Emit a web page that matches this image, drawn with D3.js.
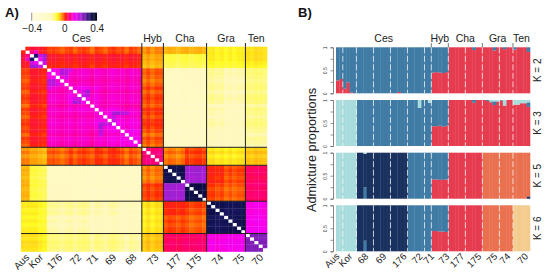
<!DOCTYPE html>
<html>
<head>
<meta charset="utf-8">
<style>
  html, body { margin: 0; padding: 0; background: #fff; }
  svg { display: block; font-family: "Liberation Sans", Arial, sans-serif; }
</style>
<script src="https://cdn.jsdelivr.net/npm/d3@7"></script>
</head>
<body>
<div id="chart"></div>
<script>
// ---- panel A data ----
const heatPops = ['Aus', 'Kor', '176', '72', '71', '69', '68', '73', '177', '175', '74', '75', '70'];
const heatPopSizes = [2, 4, 5, 5, 2, 5, 5, 5, 5, 5, 4, 5, 5];
const groupNames = ['Ces', 'Hyb', 'Cha', 'Gra', 'Ten'];
const groupSizes = [28, 5, 10, 9, 5];
// tick columns of the rotated labels (end of the text)
const heatLabelCols = [2.1, 5.3, 9.7, 14.1, 18, 22.2, 26.9, 32, 37.3, 41.9, 47, 51.9, 56.3];

// relatedness between populations, upper triangle
const popRelatedness = [
  [ .02,  .03, -.006, -.006, -.006, -.006, -.006, -.022, -.045, -.045, -.08, -.08, -.07],
  [       .09,  .012,  .012,  .012,  .012,  .012, -.045, -.11, -.11, -.09, -.09, -.08],
  [            .105, .09, .09,  .09,  .09, -.02, -.21, -.20, -.15, -.16, -.135],
  [                  .105, .10,  .09,  .09, -.012, -.21, -.21, -.15, -.16, -.135],
  [                        .11,  .10,  .09, -.006, -.22, -.22, -.16, -.17, -.14],
  [                              .11,  .10, -.006, -.22, -.22, -.16, -.17, -.14],
  [                                    .115, -.016, -.23, -.22, -.17, -.17, -.15],
  [                                          .06, -.025, -.006, -.08, -.08, -.06],
  [                                                .33,  .20,  .002, -.01, .045],
  [                                                      .34,  -.012, -.018,  .05],
  [                                                            .33,   .32,   .11],
  [                                                                   .33,   .12],
  [                                                                          .23]
];
// per sample lightness of its row and column
const sampleShift = [
  -.006, -.006, .004, .004, -.003, -.01,
  .005, .008, .003, -.004, .004,
  .008, -.005, .005, .009, .003,
  -.009, .008,
  .003, -.006, .006, .01, .002,
  .006, -.007, .008, .003, -.005,
  -.006, .005, -.007, .003, .002,
  -.002, .005, .002, -.004, .004, .006, -.002, .003, .005, -.002,
  .004, .006, -.002, .003, -.005,
  .003, -.004, .002, .004,
  .002, -.003, .005, .002, -.002
];
// single pairs that stand out of their block: row, column, value
const hotPairs = [
  [2, 3, .31], [2, 5, .2], [3, 5, .2], [1, 3, .1], [1, 2, .06], [2, 4, .16],
  [3, 4, .12], [4, 5, .16],
  [6, 9, .18], [6, 10, .17], [7, 9, .19], [7, 10, .18], [6, 11, .15], [8, 10, .15],
  [12, 15, .2], [13, 15, .18], [12, 14, .15], [13, 14, .16],
  [18, 21, .19], [18, 22, .2], [18, 23, .18], [19, 21, .17], [18, 24, .17], [20, 21, .16]
];
const colorBarTicks = [-0.4, 0, 0.4];

// ---- panel B data ----
const barPops = ['Aus', 'Kor', '68', '69', '176', '72', '71', '73', '177', '175', '75', '74', '70'];
const barPopSizes = [2, 4, 5, 5, 5, 5, 2, 5, 5, 5, 5, 4, 5];
const barLabelCols = [1.2, 5, 9.7, 15, 20.9, 25.6, 29, 33.5, 37.9, 42.9, 47.6, 51.4, 56.6];
const barGroupBreaks = [28, 33, 43, 52];
const kValues = [2, 3, 5, 6];

const k2Red = [
  .28, .31, .10, .24, .02, 0,
  0, 0, 0, 0, 0,  0, 0, 0, 0, 0,  0, 0, .03, 0, 0,  0, 0, 0, 0, 0,  0, 0,
  .45, .46, .45, .44, .46,
  1, 1, 1, 1, 1,  1, 1, .94, 1, 1,
  1, 1, 1, .93, 1,  1, .96, 1, 1,  .95, 1, 1, 1, .9
];
const k2Blue = k2Red.map(v => 1 - v);

const k3Red = [
  0, 0, 0, 0, 0, 0,
  0, 0, 0, 0, 0,  0, 0, 0, 0, 0,  0, 0, 0, 0, 0,  0, 0, 0, 0, 0,  0, 0,
  .43, .43, .44, .42, .44,
  1, 1, 1, 1, 1,  1, 1, .94, 1, 1,
  1, .98, .95, .89, .96,  .99, .88, 1, 1,  .9, .9, .93, .93, .85
];
const k3Cyan = [
  1, 1, 1, 1, 1, 1,
  0, 0, 0, 0, 0,  0, 0, 0, 0, 0,  0, 0, 0, 0, 0,  0, 0, 0, .17, 0,  0, .06,
  0, 0, 0, 0, 0,
  0, 0, 0, 0, 0,  0, 0, 0, 0, 0,
  0, 0, .03, .03, .03,  0, .12, 0, 0,  .1, .1, .07, .07, .05
];
const k3Blue = k3Red.map((v, i) => 1 - v - k3Cyan[i]);

const k5Red = [
  0, 0, 0, 0, 0, 0,
  0, 0, 0, 0, 0,  0, 0, 0, 0, 0,  0, 0, 0, 0, 0,  0, 0, 0, 0, 0,  0, 0,
  .42, .42, .41, .41, .42,
  1, 1, 1, 1, 1,  1, 1, 1, 1, 1,
  0, 0, 0, 0, 0,  0, 0, 0, 0,  0, 0, 0, 0, 0
];
const k5Blue = [
  0, 0, 0, 0, 0, 0,
  0, 0, .25, 0, 0,  0, 0, 0, 0, 0,  0, 0, 0, 0, 0,  1, 1, 1, 1, 1,  1, 1,
  .58, .58, .59, .59, .58,
  0, 0, 0, 0, 0,  0, 0, 0, 0, 0,
  0, 0, 0, 0, 0,  0, 0, 0, 0,  0, 0, 0, 0, 0
];
const k5Navy = [
  0, 0, 0, 0, 0, 0,
  1, 1, .73, 1, 1,  1, 1, 1, 1, 1,  1, 1, 1, 1, 1,  0, 0, 0, 0, 0,  0, 0,
  0, 0, 0, 0, 0,
  0, 0, 0, 0, 0,  0, 0, 0, 0, 0,
  0, 0, 0, 0, 0,  0, 0, 0, 0,  0, 0, 0, 0, .05
];
const k5Orange = [
  0, 0, 0, 0, 0, 0,
  0, 0, 0, 0, 0,  0, 0, 0, 0, 0,  0, 0, 0, 0, 0,  0, 0, 0, 0, 0,  0, 0,
  0, 0, 0, 0, 0,
  0, 0, 0, 0, 0,  0, 0, 0, 0, 0,
  1, 1, 1, 1, 1,  1, 1, 1, 1,  1, 1, 1, 1, .95
];
const k5Cyan = [
  1, 1, 1, 1, 1, 1,
  0, 0, .02, 0, 0,  0, 0, 0, 0, 0,  0, 0, 0, 0, 0,  0, 0, 0, 0, 0,  0, 0,
  0, 0, 0, 0, 0,
  0, 0, 0, 0, 0,  0, 0, 0, 0, 0,
  0, 0, 0, 0, 0,  0, 0, 0, 0,  0, 0, 0, 0, 0
];

const k6Red = [
  0, 0, 0, 0, 0, 0,
  0, 0, 0, 0, 0,  0, 0, 0, 0, 0,  0, 0, 0, 0, 0,  0, 0, 0, 0, 0,  0, 0,
  .44, .44, .43, .43, .42,
  1, 1, 1, 1, 1,  1, 1, 1, 1, 1,
  0, 0, 0, 0, 0,  0, 0, 0, 0,  0, 0, 0, 0, 0
];
const k6Blue = [
  0, 0, 0, 0, 0, 0,
  0, 0, .23, 0, 0,  0, 0, 0, 0, 0,  0, 0, 0, 0, 0,  1, 1, 1, 1, 1,  1, 1,
  .56, .56, .57, .57, .58,
  0, 0, 0, 0, 0,  0, 0, 0, 0, 0,
  0, 0, 0, 0, 0,  0, 0, 0, 0, 0,
  0, 0, 0, 0, 0,  0, 0, 0, 0,  0, 0, 0, 0, 0
].slice(0, 57);
const k6Navy = [
  0, 0, 0, 0, 0, 0,
  1, 1, .77, 1, 1,  1, 1, 1, 1, 1,  1, 1, 1, 1, 1,  0, 0, 0, 0, 0,  0, 0,
  0, 0, 0, 0, 0,
  0, 0, 0, 0, 0,  0, 0, 0, 0, 0,
  0, 0, 0, 0, 0,  0, 0, 0, 0,  0, 0, 0, 0, 0
];
const k6Orange = [
  0, 0, 0, 0, 0, 0,
  0, 0, 0, 0, 0,  0, 0, 0, 0, 0,  0, 0, 0, 0, 0,  0, 0, 0, 0, 0,  0, 0,
  0, 0, 0, 0, 0,
  0, 0, 0, 0, 0,  0, 0, 0, 0, 0,
  1, 1, 1, 1, 1,  1, 1, 1, 1,  0, 0, 0, 0, 0
];
const k6Peach = [
  0, 0, 0, 0, 0, 0,
  0, 0, 0, 0, 0,  0, 0, 0, 0, 0,  0, 0, 0, 0, 0,  0, 0, 0, 0, 0,  0, 0,
  0, 0, 0, 0, 0,
  0, 0, 0, 0, 0,  0, 0, 0, 0, 0,
  0, 0, 0, 0, 0,  0, 0, 0, 0,  1, 1, 1, 1, 1
];
const k6Cyan = k5Cyan.map((v, i) => i === 8 ? 0 : v);

const kSeries = [
  [['red', k2Red], ['blue', k2Blue]],
  [['red', k3Red], ['blue', k3Blue], ['cyan', k3Cyan]],
  [['red', k5Red], ['blue', k5Blue], ['navy', k5Navy], ['orange', k5Orange], ['cyan', k5Cyan]],
  [['red', k6Red], ['blue', k6Blue], ['navy', k6Navy], ['orange', k6Orange], ['peach', k6Peach], ['cyan', k6Cyan]]
];

const clusterColors = {
  red: '#E63C50', blue: '#3F7BA5', cyan: '#A8DCDC', navy: '#18315F',
  orange: '#E9714F', peach: '#F3CC8E'
};

// ---- layout ----
const width = 550;
const height = 276;
const heat = { left: 21, right: 267, top: 46.7, bottom: 251.5 };
const bars = { left: 336, right: 530 };
const rowTops = [47.3, 100, 152.7, 205.3];
const rowHeight = 46;

const svg = d3.select('#chart').append('svg')
  .attr('width', width)
  .attr('height', height);

const color = d3.scaleLinear()
  .domain([-0.4, -0.16, -0.09, -0.035, 0, 0.05, 0.12, 0.21, 0.32, 0.4])
  .range(['#FFFBDC', '#FFF8BC', '#FFFA20', '#FF9A00', '#FF2A00', '#FF0068', '#F800F0', '#9C20D0', '#14145A', '#000010']);

// expand the population table to one row per sample
const samplePop = heatPopSizes.flatMap((n, p) => d3.range(n).map(() => p));
const nSamples = samplePop.length;
const hotLookup = new Map();
hotPairs.forEach(([r, c, v]) => {
  hotLookup.set(r + '-' + c, v);
  hotLookup.set(c + '-' + r, v);
});

const cells = [];
d3.range(nSamples).forEach(i => {
  d3.range(nSamples).forEach(j => {
    if (i === j) return; // diagonal stays white
    const a = Math.min(samplePop[i], samplePop[j]);
    const b = Math.max(samplePop[i], samplePop[j]);
    const block = popRelatedness[a][b - a];
    const hot = hotLookup.get(i + '-' + j);
    cells.push({ i, j, value: hot !== undefined ? hot : block + sampleShift[i] + sampleShift[j] });
  });
});

// ---- panel A ----
const xHeat = d3.scaleBand().domain(d3.range(nSamples)).range([heat.left, heat.right]);
const yHeat = d3.scaleBand().domain(d3.range(nSamples)).range([heat.top, heat.bottom]);
const colX = d3.scaleLinear().domain([0, nSamples]).range([heat.left, heat.right]);
const rowY = d3.scaleLinear().domain([0, nSamples]).range([heat.top, heat.bottom]);

svg.append('g')
  .selectAll('rect')
  .data(cells)
  .join('rect')
  .attr('x', d => xHeat(d.j))
  .attr('y', d => yHeat(d.i))
  .attr('width', xHeat.bandwidth() + 0.3)
  .attr('height', yHeat.bandwidth() + 0.3)
  .attr('fill', d => color(d.value));

const groupEnds = d3.cumsum(groupSizes);
const groupStarts = [0, ...groupEnds];

groupEnds.slice(0, -1).forEach(g => {
  svg.append('line')
    .attr('x1', colX(g)).attr('x2', colX(g))
    .attr('y1', 43).attr('y2', heat.bottom)
    .attr('stroke', '#222').attr('stroke-width', 1);
  svg.append('line')
    .attr('x1', heat.left).attr('x2', heat.right)
    .attr('y1', rowY(g)).attr('y2', rowY(g))
    .attr('stroke', '#222').attr('stroke-width', 1);
});

svg.append('g')
  .selectAll('text')
  .data(groupNames)
  .join('text')
  .attr('x', (d, i) => colX((groupStarts[i] + groupEnds[i]) / 2))
  .attr('y', 42)
  .attr('text-anchor', 'middle')
  .attr('font-size', 10.5)
  .attr('fill', '#222')
  .text(d => d);

svg.append('g')
  .selectAll('text')
  .data(heatPops)
  .join('text')
  .attr('transform', (d, i) => `translate(${colX(heatLabelCols[i])},258) rotate(-45)`)
  .attr('text-anchor', 'end')
  .attr('font-size', 10)
  .attr('fill', '#222')
  .text(d => d);

// colour key
const barScale = d3.scaleLinear().domain([-0.4, 0.4]).range([31.7, 96.7]);
svg.append('g')
  .selectAll('rect')
  .data(d3.range(-0.4, 0.4, 0.01))
  .join('rect')
  .attr('x', d => barScale(d))
  .attr('y', 12.7)
  .attr('width', barScale(0.01) - barScale(0) + 0.3)
  .attr('height', 8)
  .attr('fill', d => color(d));

const keyAxis = svg.append('g')
  .attr('transform', 'translate(0,20.7)')
  .call(d3.axisBottom(barScale).tickValues(colorBarTicks)
    .tickSize(0).tickPadding(4)
    .tickFormat(d => d === 0 ? '0' : d3.format('.1f')(d)));
keyAxis.select('.domain').remove();
keyAxis.selectAll('text')
  .attr('font-size', 10)
  .attr('font-family', 'Liberation Sans')
  .attr('fill', '#222');
svg.append('line')
  .attr('x1', barScale(-0.4)).attr('x2', barScale(-0.4))
  .attr('y1', 12.7).attr('y2', 20.7)
  .attr('stroke', '#666').attr('stroke-width', 0.7);

svg.append('text')
  .attr('x', 5).attr('y', 17)
  .attr('font-size', 13).attr('font-weight', 'bold')
  .attr('fill', '#111')
  .text('A)');

// ---- panel B ----
const xBar = d3.scaleBand().domain(d3.range(nSamples)).range([bars.left, bars.right]);
const barX = d3.scaleLinear().domain([0, nSamples]).range([bars.left, bars.right]);
const popBreaks = d3.cumsum(barPopSizes).slice(0, -1);

kSeries.forEach((series, r) => {
  const yBar = d3.scaleLinear().domain([0, 1]).range([rowTops[r] + rowHeight, rowTops[r]]);
  const row = svg.append('g');
  const keys = series.map(s => s[0]);
  const table = d3.range(nSamples).map(i => {
    const entry = { i };
    series.forEach(([key, values]) => { entry[key] = values[i]; });
    return entry;
  });

  d3.stack().keys(keys)(table).forEach(layer => {
    row.append('g')
      .attr('fill', clusterColors[layer.key])
      .selectAll('rect')
      .data(layer.filter(d => d[1] > d[0]))
      .join('rect')
      .attr('x', d => xBar(d.data.i))
      .attr('y', d => yBar(d[1]))
      .attr('width', xBar.bandwidth() + 0.3)
      .attr('height', d => yBar(d[0]) - yBar(d[1]));
  });

  // population breaks
  row.append('g')
    .selectAll('line')
    .data(popBreaks)
    .join('line')
    .attr('x1', d => barX(d)).attr('x2', d => barX(d))
    .attr('y1', rowTops[r]).attr('y2', rowTops[r] + rowHeight)
    .attr('stroke', '#fff')
    .attr('stroke-opacity', 0.8)
    .attr('stroke-width', 0.9)
    .attr('stroke-dasharray', '6,2.5');

  const axis = row.append('g')
    .attr('transform', 'translate(333,0)')
    .call(d3.axisLeft(yBar).tickValues([0, 0.25, 0.5, 0.75, 1])
      .tickSize(2.5).tickPadding(1.5)
      .tickFormat(d => (d === 0.25 || d === 0.75) ? '' : d));
  axis.select('.domain').attr('stroke', '#666').attr('stroke-width', 0.8);
  axis.selectAll('.tick line').attr('stroke', '#666').attr('stroke-width', 0.7);
  axis.selectAll('.tick text')
    .attr('font-size', 5)
    .attr('font-family', 'Liberation Sans')
    .attr('fill', '#333')
    .attr('text-anchor', 'middle')
    .attr('dy', 0)
    .attr('x', -6)
    .attr('transform', 'rotate(-90,-6,0)');

  svg.append('text')
    .attr('transform', `translate(540.5,${rowTops[r] + rowHeight / 2}) rotate(-90)`)
    .attr('text-anchor', 'middle')
    .attr('font-size', 10)
    .attr('fill', '#222')
    .text('K = ' + kValues[r]);
});

// group ticks and names above the bars
barGroupBreaks.forEach(b => {
  svg.append('line')
    .attr('x1', barX(b)).attr('x2', barX(b))
    .attr('y1', 43).attr('y2', 47.3)
    .attr('stroke', '#777').attr('stroke-width', 1);
});
const barGroupEnds = [...barGroupBreaks, nSamples];
const barGroupStarts = [0, ...barGroupBreaks];
svg.append('g')
  .selectAll('text')
  .data(groupNames)
  .join('text')
  .attr('x', (d, i) => barX((barGroupStarts[i] + barGroupEnds[i]) / 2))
  .attr('y', 42)
  .attr('text-anchor', 'middle')
  .attr('font-size', 10.5)
  .attr('fill', '#222')
  .text(d => d);

svg.append('g')
  .selectAll('text')
  .data(barPops)
  .join('text')
  .attr('transform', (d, i) => `translate(${barX(barLabelCols[i])},257) rotate(-45)`)
  .attr('text-anchor', 'end')
  .attr('font-size', 9.5)
  .attr('fill', '#222')
  .text(d => d);

svg.append('text')
  .attr('transform', 'translate(316,150) rotate(-90)')
  .attr('text-anchor', 'middle')
  .attr('font-size', 12.7)
  .attr('fill', '#222')
  .text('Admixture proportions');

svg.append('text')
  .attr('x', 298).attr('y', 17)
  .attr('font-size', 13).attr('font-weight', 'bold')
  .attr('fill', '#111')
  .text('B)');
</script>
</body>
</html>
